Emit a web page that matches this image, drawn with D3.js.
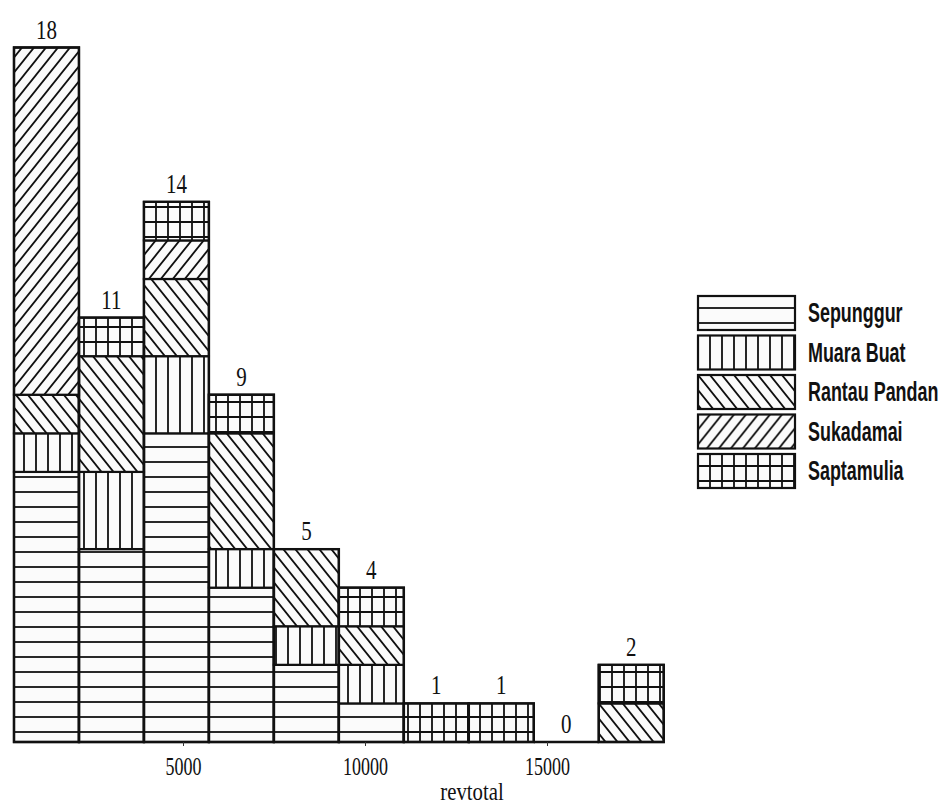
<!DOCTYPE html>
<html>
<head>
<meta charset="utf-8">
<script src="https://cdn.jsdelivr.net/npm/d3@7"></script>
<style>
html, body { margin: 0; padding: 0; background: #fff; }
svg { display: block; }
.count, .axis text, .xtitle { font-family: "Liberation Serif", "DejaVu Serif", serif; fill: #111; }
.legend text { font-family: "Liberation Sans", Arial, sans-serif; font-weight: bold; font-size: 28px; fill: #111; }
</style>
</head>
<body>
<svg id="chart" width="941" height="809"></svg>
<script>

// bins of revtotal (edges) and counts per village, stacked bottom -> top
var binEdges = [357, 2142, 3927, 5712, 7497, 9282, 11067, 12852, 14637, 16422, 18207];
var groups = ["Sepunggur", "Muara Buat", "Rantau Pandan", "Sukadamai", "Saptamulia"];
var sepunggur    = [7, 5, 8, 4, 2, 1, 0, 0, 0, 0];
var muaraBuat    = [1, 2, 2, 1, 1, 1, 0, 0, 0, 0];
var rantauPandan = [1, 3, 2, 3, 2, 1, 0, 0, 0, 1];
var sukadamai    = [9, 0, 1, 0, 0, 0, 0, 0, 0, 0];
var saptamulia   = [0, 1, 1, 1, 0, 1, 1, 1, 0, 1];
var xTicks = [5000, 10000, 15000];

var counts = [sepunggur, muaraBuat, rantauPandan, sukadamai, saptamulia];
var table = binEdges.slice(0, -1).map(function(x0, i) {
  var row = {x0: x0, x1: binEdges[i + 1]};
  groups.forEach(function(g, j) { row[g] = counts[j][i]; });
  return row;
});
var totals = table.map(function(r) { return d3.sum(groups, function(g) { return r[g]; }); });

var svg = d3.select("#chart");

var x = d3.scaleLinear().domain([0, 15000]).range([1, 547]);
var y = d3.scaleLinear().domain([0, 18]).range([742, 47.5]);

// hatch patterns, anchored to the page so lines line up between bars
var defs = svg.append("defs");
var patPaths = {
  "Sepunggur": "M0,12H12",
  "Muara Buat": "M0,0V15M12,0V15",
  "Rantau Pandan": "M-6,-7.5L18,22.5M6,-7.5L30,22.5M-18,-7.5L6,22.5",
  "Sukadamai": "M-6,22.5L18,-7.5M6,22.5L30,-7.5M-18,22.5L6,-7.5",
  "Saptamulia": "M0,0V15M12,0V15M0,12H12"
};
groups.forEach(function(g, i) {
  var p = defs.append("pattern")
      .attr("id", "pat" + i)
      .attr("patternUnits", "userSpaceOnUse")
      .attr("width", 12)
      .attr("height", 15);
  p.append("rect").attr("width", 12).attr("height", 15).attr("fill", "#fbfbfb");
  p.append("path")
      .attr("d", patPaths[g])
      .attr("stroke", "#111")
      .attr("stroke-width", 1.8)
      .attr("fill", "none");
});

var stacked = d3.stack().keys(groups)(table);

var layer = svg.append("g").selectAll("g")
    .data(stacked)
  .enter().append("g")
    .attr("fill", function(d, i) { return "url(#pat" + i + ")"; });

layer.selectAll("rect")
    .data(function(d) { return d.filter(function(s) { return s[1] > s[0]; }); })
  .enter().append("rect")
    .attr("x", function(d) { return x(d.data.x0); })
    .attr("width", function(d) { return x(d.data.x1) - x(d.data.x0); })
    .attr("y", function(d) { return y(d[1]); })
    .attr("height", function(d) { return y(d[0]) - y(d[1]); })
    .attr("stroke", "#111")
    .attr("stroke-width", 2.2);

// outline of every bin (also shows the empty one)
svg.append("g").selectAll("path")
    .data(table)
  .enter().append("path")
    .attr("d", function(d, i) {
      return "M" + x(d.x0) + "," + y(0) + "H" + x(d.x1) + "V" + y(totals[i]) + "H" + x(d.x0) + "Z";
    })
    .attr("fill", "none")
    .attr("stroke", "#111")
    .attr("stroke-width", 2.4);

// count labels
svg.append("g").selectAll("text")
    .data(table)
  .enter().append("text")
    .attr("class", "count")
    .attr("text-anchor", "middle")
    .attr("font-size", 28)
    .attr("transform", function(d, i) {
      return "translate(" + ((x(d.x0) + x(d.x1)) / 2) + "," + (y(totals[i]) - 9) + ") scale(0.75,1)";
    })
    .text(function(d, i) { return totals[i]; });

// x axis
var axis = svg.append("g")
    .attr("class", "axis")
    .attr("transform", "translate(0," + y(0) + ")")
    .call(d3.axisBottom(x).tickValues(xTicks).tickSize(4).tickFormat(d3.format("d")));
axis.select(".domain").remove();
axis.selectAll("line").attr("stroke", "#333");
axis.selectAll("text")
    .attr("y", null)
    .attr("dy", null)
    .attr("font-size", 25)
    .attr("transform", "translate(0,33) scale(0.72,1)");

svg.append("text")
    .attr("class", "xtitle")
    .attr("text-anchor", "middle")
    .attr("font-size", 26)
    .attr("transform", "translate(472,800) scale(0.8,1)")
    .text("revtotal");

// legend
var legend = svg.append("g").attr("class", "legend");
var item = legend.selectAll("g")
    .data(groups)
  .enter().append("g")
    .attr("transform", function(d, i) { return "translate(698," + (296 + i * 39.5) + ")"; });
item.append("rect")
    .attr("width", 97)
    .attr("height", 34)
    .attr("fill", function(d, i) { return "url(#pat" + i + ")"; })
    .attr("stroke", "#111")
    .attr("stroke-width", 2.2);
item.append("text")
    .attr("transform", "translate(110,26) scale(0.64,1)")
    .text(function(d) { return d; });

</script>
</body>
</html>
